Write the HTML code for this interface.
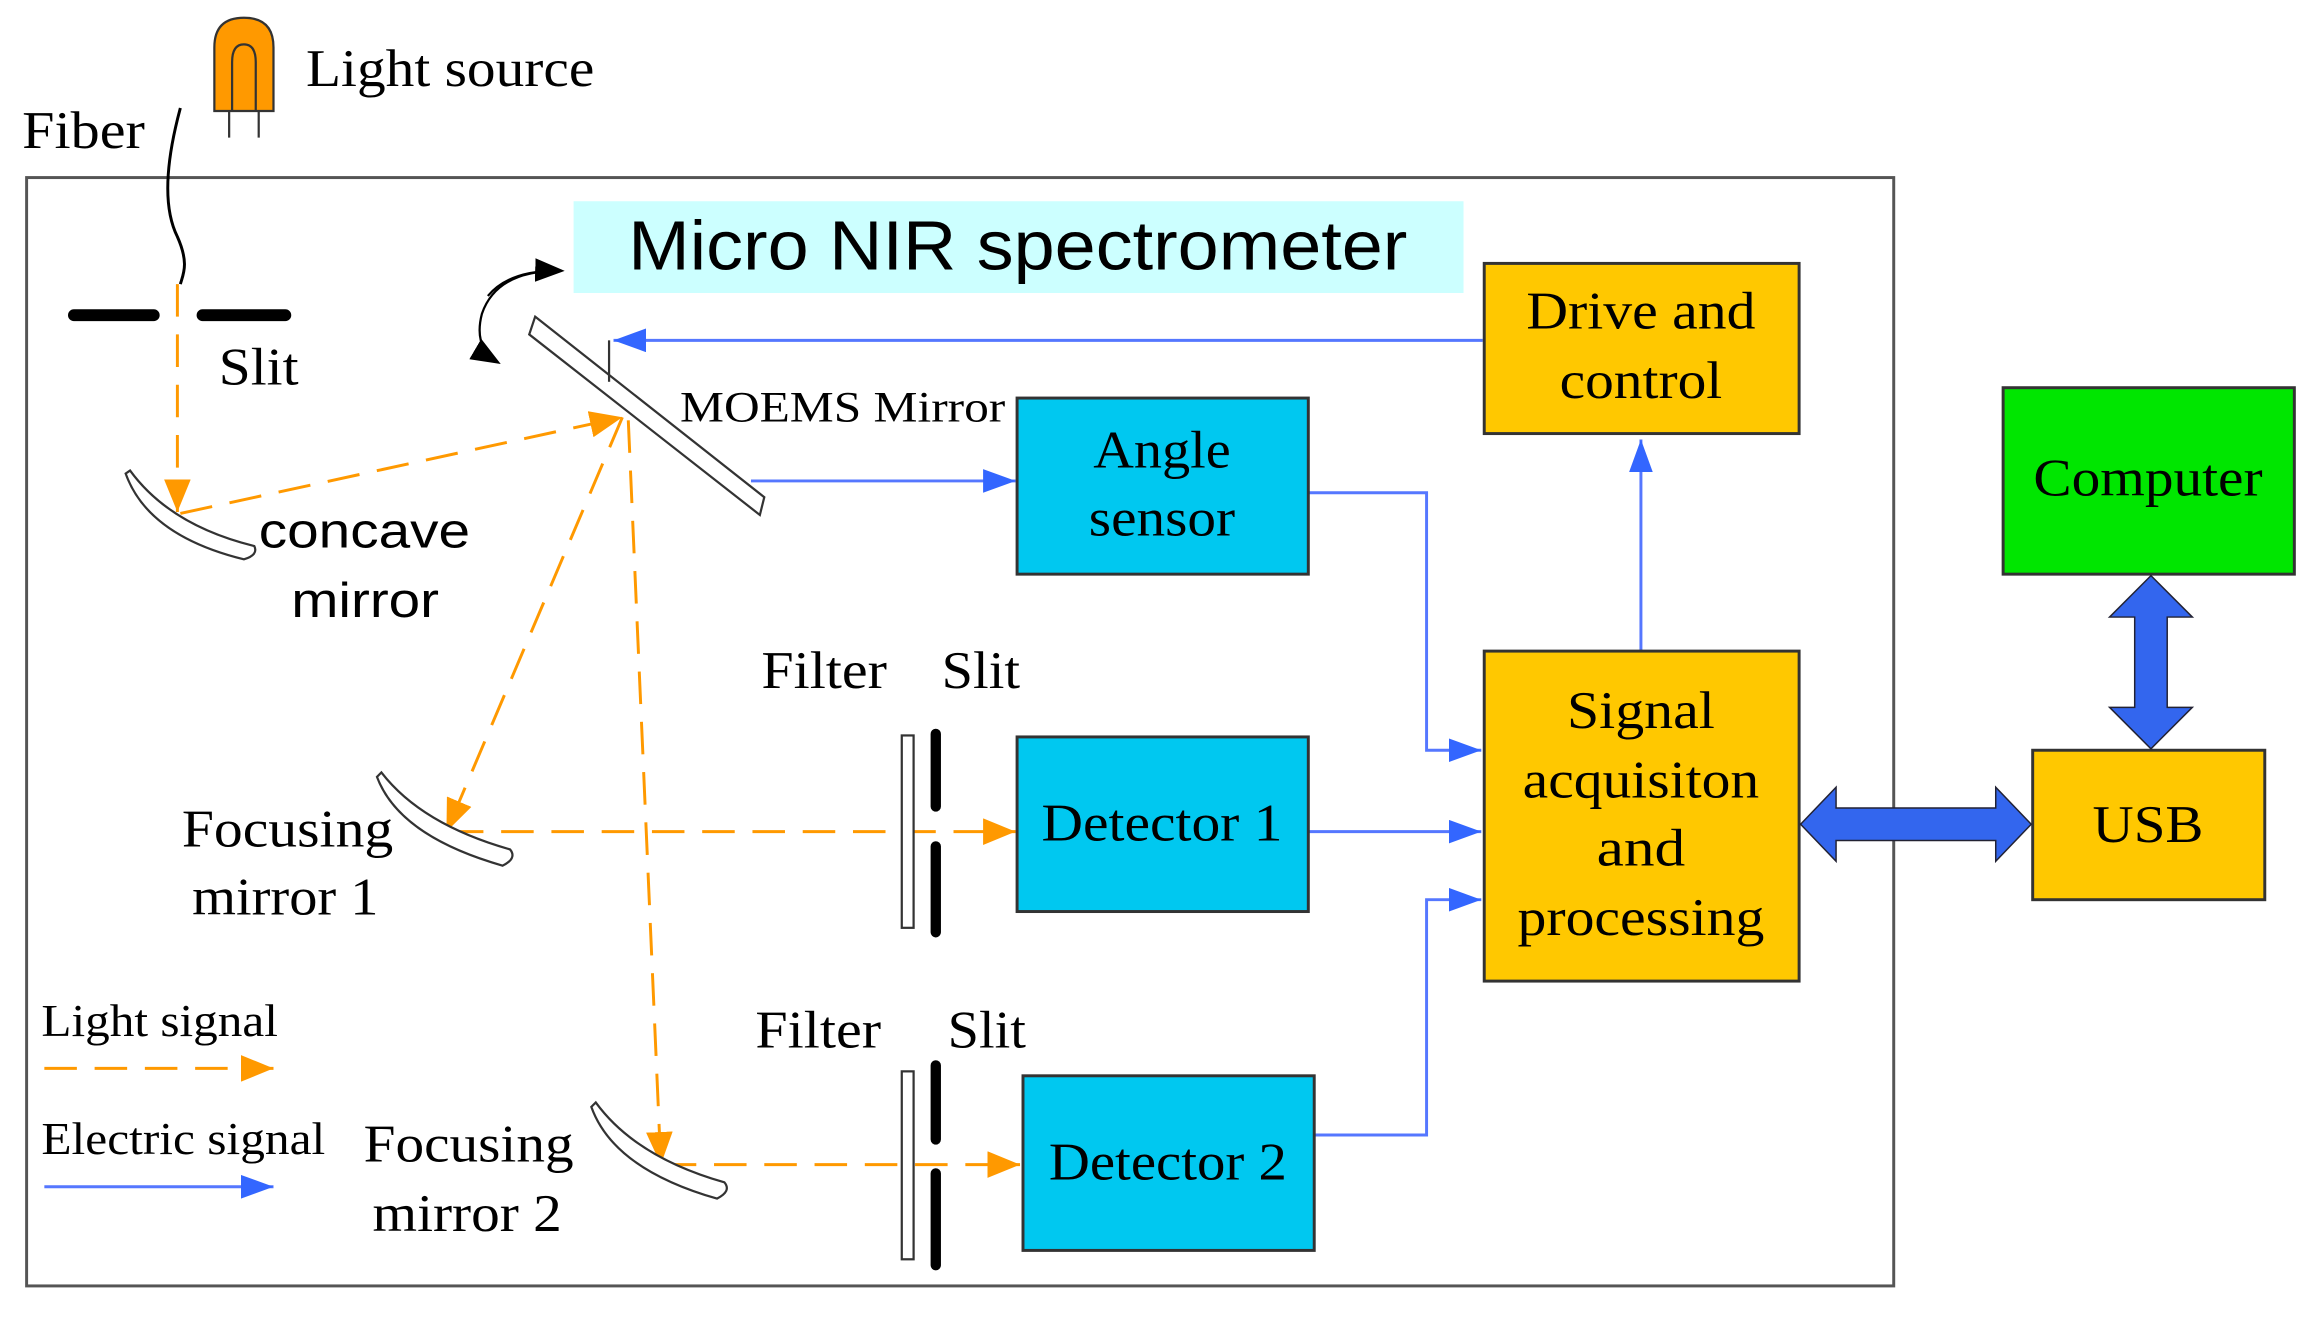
<!DOCTYPE html>
<html><head><style>html,body{margin:0;padding:0;background:#fff}svg{display:block}</style></head>
<body>
<svg width="2318" height="1317" viewBox="0 0 1568 890" preserveAspectRatio="none" xmlns="http://www.w3.org/2000/svg">
<defs>
<marker id="oa" markerWidth="22" markerHeight="18" refX="22" refY="9" orient="auto" markerUnits="userSpaceOnUse"><path d="M0,0 L22,9 L0,18 z" fill="#FF9900"/></marker>
<marker id="ba" markerWidth="22" markerHeight="16" refX="22" refY="8" orient="auto" markerUnits="userSpaceOnUse"><path d="M0,0 L22,8 L0,16 z" fill="#3366FF"/></marker>
<marker id="ka" markerWidth="20" markerHeight="16" refX="18" refY="8" orient="auto" markerUnits="userSpaceOnUse"><path d="M0,0 L20,8 L0,16 z" fill="#000"/></marker>
</defs>
<g font-family="Liberation Serif, serif" fill="#000" lengthAdjust="spacingAndGlyphs">
<rect x="18" y="120" width="1263" height="749" fill="none" stroke="#555" stroke-width="2"/>
<rect x="388" y="136" width="602" height="62" fill="#CCFFFF"/>
<text x="425" y="182" font-family="Liberation Sans, sans-serif" font-size="47" textLength="527" lengthAdjust="spacingAndGlyphs">Micro NIR spectrometer</text>
<path d="M145,75 L145,32 Q145,12 165,12 Q185,12 185,32 L185,75 Z" fill="#FF9900" stroke="#333" stroke-width="1.5"/>
<path d="M157,75 L157,42 Q157,30 165,30 Q173,30 173,42 L173,75" fill="none" stroke="#333" stroke-width="1.5"/>
<line x1="155" y1="75" x2="155" y2="93" stroke="#333" stroke-width="1.5"/>
<line x1="175" y1="75" x2="175" y2="93" stroke="#333" stroke-width="1.5"/>
<text x="207" y="58" font-size="36" textLength="195" lengthAdjust="spacingAndGlyphs">Light source</text>
<text x="15" y="100" font-size="36" textLength="83" lengthAdjust="spacingAndGlyphs">Fiber</text>
<path d="M122,73 C112,110 110,140 120,160 C128,178 124,185 122,192" fill="none" stroke="#000" stroke-width="2"/>
<line x1="50" y1="213" x2="104" y2="213" stroke="#000" stroke-width="8" stroke-linecap="round"/>
<line x1="137" y1="213" x2="193" y2="213" stroke="#000" stroke-width="8" stroke-linecap="round"/>
<text x="148" y="260" font-size="36" textLength="54" lengthAdjust="spacingAndGlyphs">Slit</text>
<g stroke="#FF9900" stroke-width="2" fill="none" stroke-dasharray="22,12">
<line x1="120" y1="192" x2="120" y2="346" marker-end="url(#oa)"/>
<line x1="122" y1="347" x2="421" y2="282" marker-end="url(#oa)"/>
<line x1="421" y1="282" x2="302" y2="562" marker-end="url(#oa)"/>
<line x1="425" y1="284" x2="447" y2="787" marker-end="url(#oa)"/>
<line x1="305" y1="562" x2="687" y2="562" marker-end="url(#oa)"/>
<line x1="449" y1="787" x2="690" y2="787" marker-end="url(#oa)"/>
<line x1="30" y1="722" x2="185" y2="722" marker-end="url(#oa)"/>
</g>
<path d="M85,320 Q100,362 165,378 Q175,375 172,369 Q115,355 88,318 Z" fill="#fff" stroke="#333" stroke-width="1.5"/>
<text x="175" y="370" font-family="Liberation Sans, sans-serif" font-size="33" textLength="143" lengthAdjust="spacingAndGlyphs">concave</text>
<text x="197" y="417" font-family="Liberation Sans, sans-serif" font-size="33" textLength="100" lengthAdjust="spacingAndGlyphs">mirror</text>
<path d="M255,525 Q270,565 340,585 Q350,580 345,574 Q285,557 258,522 Z" fill="#fff" stroke="#333" stroke-width="1.5"/>
<path d="M400,748 Q415,790 485,810 Q495,805 490,799 Q430,782 403,745 Z" fill="#fff" stroke="#333" stroke-width="1.5"/>
<text x="123" y="572" font-size="36" textLength="143" lengthAdjust="spacingAndGlyphs">Focusing</text>
<text x="130" y="618" font-size="36" textLength="126" lengthAdjust="spacingAndGlyphs">mirror 1</text>
<text x="246" y="785" font-size="36" textLength="142" lengthAdjust="spacingAndGlyphs">Focusing</text>
<text x="252" y="832" font-size="36" textLength="128" lengthAdjust="spacingAndGlyphs">mirror 2</text>
<path d="M362,214 L517,336 L514,348 L358,226 Z" fill="#fff" stroke="#333" stroke-width="1.5"/>
<text x="460" y="285" font-size="29" textLength="220" lengthAdjust="spacingAndGlyphs">MOEMS Mirror</text>
<path d="M378,183 Q336,183 326,212 Q320,235 337,245" fill="none" stroke="#000" stroke-width="1.5" marker-end="url(#ka)"/>
<path d="M330,200 Q345,182 380,183" fill="none" stroke="#000" stroke-width="1.5" marker-end="url(#ka)"/>
<g stroke="#5577FF" stroke-width="2" fill="none">
<line x1="1003" y1="230" x2="415" y2="230" marker-end="url(#ba)"/>
<line x1="412" y1="230" x2="412" y2="258" stroke="#333" stroke-width="1.5"/>
<line x1="508" y1="325" x2="687" y2="325" marker-end="url(#ba)"/>
<polyline points="885,333 965,333 965,507 1002,507" marker-end="url(#ba)"/>
<line x1="885" y1="562" x2="1002" y2="562" marker-end="url(#ba)"/>
<polyline points="889,767 965,767 965,608 1002,608" marker-end="url(#ba)"/>
<line x1="1110" y1="440" x2="1110" y2="297" marker-end="url(#ba)"/>
<line x1="30" y1="802" x2="185" y2="802" marker-end="url(#ba)"/>
</g>
<rect x="610" y="497" width="8" height="130" fill="#fff" stroke="#333" stroke-width="1.5"/>
<line x1="633" y1="496" x2="633" y2="545" stroke="#000" stroke-width="7" stroke-linecap="round"/>
<line x1="633" y1="572" x2="633" y2="630" stroke="#000" stroke-width="7" stroke-linecap="round"/>
<rect x="610" y="724" width="8" height="127" fill="#fff" stroke="#333" stroke-width="1.5"/>
<line x1="633" y1="720" x2="633" y2="770" stroke="#000" stroke-width="7" stroke-linecap="round"/>
<line x1="633" y1="793" x2="633" y2="855" stroke="#000" stroke-width="7" stroke-linecap="round"/>
<text x="515" y="465" font-size="36" textLength="85" lengthAdjust="spacingAndGlyphs">Filter</text>
<text x="637" y="465" font-size="36" textLength="53" lengthAdjust="spacingAndGlyphs">Slit</text>
<text x="511" y="708" font-size="36" textLength="85" lengthAdjust="spacingAndGlyphs">Filter</text>
<text x="641" y="708" font-size="36" textLength="53" lengthAdjust="spacingAndGlyphs">Slit</text>
<text x="28" y="700" font-size="31" textLength="160" lengthAdjust="spacingAndGlyphs">Light signal</text>
<text x="28" y="780" font-size="31" textLength="192" lengthAdjust="spacingAndGlyphs">Electric signal</text>
<g stroke="#333" stroke-width="2">
<rect x="688" y="269" width="197" height="119" fill="#00C8F0"/>
<rect x="688" y="498" width="197" height="118" fill="#00C8F0"/>
<rect x="692" y="727" width="197" height="118" fill="#00C8F0"/>
<rect x="1004" y="178" width="213" height="115" fill="#FFC800"/>
<rect x="1004" y="440" width="213" height="223" fill="#FFC800"/>
<rect x="1375" y="507" width="157" height="101" fill="#FFC800"/>
<rect x="1355" y="262" width="197" height="126" fill="#00E600"/>
</g>
<g font-size="36" text-anchor="middle">
<text x="786" y="316" textLength="93" lengthAdjust="spacingAndGlyphs">Angle</text><text x="786" y="362" textLength="99" lengthAdjust="spacingAndGlyphs">sensor</text>
<text x="786" y="568" textLength="163" lengthAdjust="spacingAndGlyphs">Detector 1</text>
<text x="790" y="797" textLength="161" lengthAdjust="spacingAndGlyphs">Detector 2</text>
<text x="1110" y="222" textLength="155" lengthAdjust="spacingAndGlyphs">Drive and</text><text x="1110" y="269" textLength="110" lengthAdjust="spacingAndGlyphs">control</text>
<text x="1110" y="492" textLength="100" lengthAdjust="spacingAndGlyphs">Signal</text><text x="1110" y="539" textLength="160" lengthAdjust="spacingAndGlyphs">acquisiton</text><text x="1110" y="585" textLength="60" lengthAdjust="spacingAndGlyphs">and</text><text x="1110" y="632" textLength="167" lengthAdjust="spacingAndGlyphs">processing</text>
<text x="1453" y="569" textLength="75" lengthAdjust="spacingAndGlyphs">USB</text>
<text x="1453" y="335" textLength="155" lengthAdjust="spacingAndGlyphs">Computer</text>
</g>
<path d="M1218,557 L1242,532 L1242,546 L1350,546 L1350,532 L1374,557 L1350,582 L1350,568 L1242,568 L1242,582 Z" fill="#3366EE" stroke="#223" stroke-width="1"/>
<path d="M1455,389 L1483,417 L1466,417 L1466,478 L1483,478 L1455,506 L1427,478 L1444,478 L1444,417 L1427,417 Z" fill="#3366EE" stroke="#223" stroke-width="1"/>
</g>
</svg>
</body></html>
